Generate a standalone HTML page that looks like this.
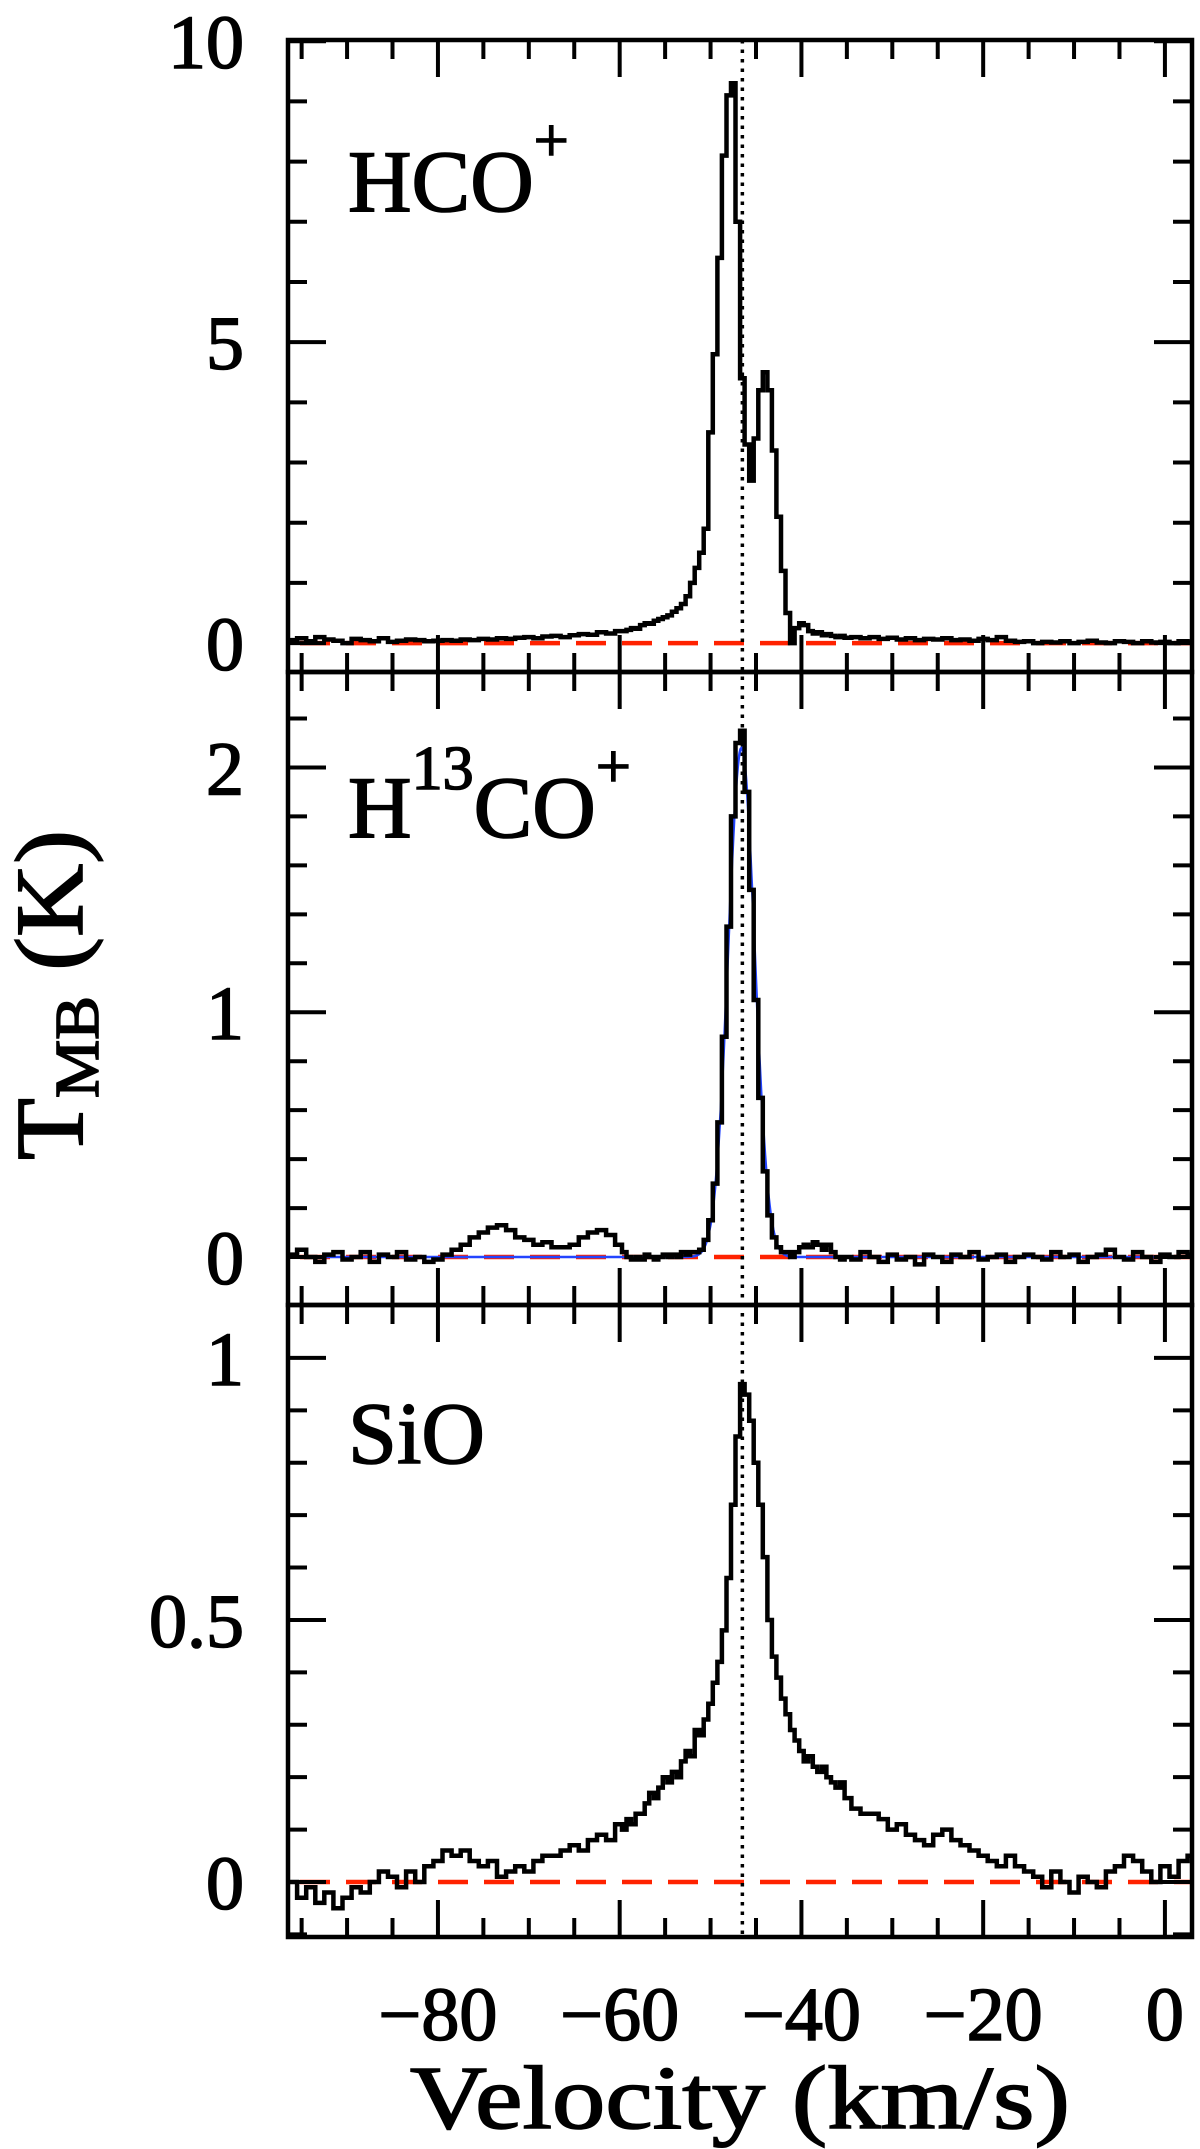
<!DOCTYPE html>
<html><head><meta charset="utf-8"><style>
html,body{margin:0;padding:0;background:#fff;}
svg{display:block;}
text{font-family:"Liberation Serif",serif;fill:#000;stroke:#000;stroke-width:1.6px;}
</style></head><body>
<svg id="chart" width="1200" height="2149" viewBox="0 0 1200 2149" xmlns="http://www.w3.org/2000/svg">
<g id="g-panels"></g>
<text x="740" y="2128" font-size="90" text-anchor="middle" textLength="660" lengthAdjust="spacingAndGlyphs">Velocity (km/s)</text>
<text transform="translate(82,995) rotate(-90)" font-size="96" text-anchor="middle" textLength="330" lengthAdjust="spacingAndGlyphs">T<tspan font-size="62" dy="16">MB</tspan><tspan dy="-16">  (K)</tspan></text>
</svg>
<script>
const velocities=[-96,-95,-94,-93,-92,-91,-90,-89,-88,-87,-86,-85,-84,-83,-82,-81,-80,-79,-78,-77,-76,-75,-74,-73,-72,-71,-70,-69,-68,-67,-66,-65,-64,-63,-62,-61,-60,
-59.5,-59,-58.5,-58,-57.5,-57,-56.5,-56,-55.5,-55,-54.5,-54,-53.5,-53,-52.5,-52,-51.5,-51,-50.5,-50,-49.5,-49,-48.5,-48,-47.5,-47,-46.5,-46,-45.5,-45,-44.5,-44,-43.5,-43,-42.5,-42,-41.5,-41,-40.5,-40,-39.5,-39,-38.5,-38,-37.5,-37,-36.5,-36,-35.5,-35,
-34,-33,-32,-31,-30,-29,-28,-27,-26,-25,-24,-23,-22,-21,-20,-19,-18,-17,-16,-15,-14,-13,-12,-11,-10,-9,-8,-7,-6,-5,-4,-3,-2,-1,0,1,2,3];
const hcoT=[0.05,0.08,0.03,0.1,0.06,0.04,0.0,0.07,0.05,0.03,0.08,0.02,0.04,0.06,0.05,0.03,0.04,0.05,0.04,0.06,0.05,0.07,0.06,0.08,0.07,0.09,0.1,0.08,0.11,0.12,0.1,0.13,0.15,0.14,0.18,0.16,0.2,
0.2,0.22,0.25,0.24,0.3,0.33,0.32,0.37,0.4,0.43,0.46,0.52,0.58,0.65,0.78,1.0,1.25,1.5,1.9,3.5,4.8,6.4,8.1,9.1,9.3,7.0,4.4,3.3,2.7,3.4,4.2,4.5,4.2,3.2,2.1,1.2,0.5,0.0,0.25,0.33,0.3,0.2,0.16,0.18,0.13,0.15,0.12,0.1,0.12,0.09,
0.1,0.08,0.1,0.07,0.09,0.06,0.08,0.05,0.07,0.06,0.08,0.05,0.06,0.04,0.07,0.05,0.1,0.04,0.02,0.03,0.0,0.02,0.01,0.03,0.0,0.02,0.04,0.01,0.0,0.03,0.02,0.0,0.03,0.01,0.02,0.0,0.03,0.01];
const h13coT=[0.01,0.03,0.0,-0.02,0.01,0.02,-0.01,0.0,0.02,-0.02,0.01,0.0,0.02,-0.01,0.0,-0.02,-0.01,0.01,0.03,0.05,0.08,0.1,0.12,0.13,0.11,0.08,0.07,0.05,0.06,0.04,0.04,0.05,0.08,0.1,0.11,0.09,0.05,
0.02,0.0,-0.01,0.0,-0.01,0.01,0.0,-0.01,0.0,0.01,0.0,0.01,0.0,0.02,0.01,0.02,0.02,0.03,0.07,0.15,0.3,0.55,0.9,1.35,1.8,2.1,2.15,1.9,1.5,1.05,0.65,0.35,0.17,0.08,0.04,0.02,0.02,0.0,0.02,0.04,0.05,0.04,0.06,0.05,0.03,0.05,0.02,0.0,-0.01,0.0,
-0.01,0.02,0.0,-0.02,0.01,-0.01,0.0,-0.03,0.01,0.0,-0.02,0.01,0.0,0.02,-0.01,0.0,0.01,-0.02,0.0,0.01,0.0,-0.01,0.02,0.0,0.01,-0.02,0.0,0.01,0.03,0.0,-0.01,0.02,0.0,-0.02,0.01,0.0,0.02,0.01];
const sioT=[0.0,-0.03,-0.01,-0.04,-0.02,-0.05,-0.03,-0.01,-0.02,0.0,0.02,0.01,-0.01,0.02,0.0,0.03,0.04,0.06,0.05,0.06,0.04,0.03,0.04,0.01,0.02,0.03,0.02,0.04,0.05,0.05,0.06,0.07,0.06,0.08,0.09,0.08,0.11,
0.1,0.12,0.11,0.13,0.13,0.15,0.17,0.16,0.18,0.2,0.19,0.21,0.2,0.23,0.25,0.24,0.29,0.28,0.31,0.34,0.38,0.42,0.48,0.58,0.72,0.85,0.95,0.93,0.88,0.8,0.72,0.62,0.5,0.43,0.39,0.35,0.32,0.29,0.27,0.25,0.23,0.24,0.22,0.21,0.22,0.2,0.19,0.18,0.19,0.16,
0.14,0.13,0.13,0.12,0.1,0.11,0.09,0.08,0.07,0.09,0.1,0.08,0.07,0.06,0.05,0.04,0.03,0.05,0.03,0.02,0.01,-0.01,0.02,0.0,-0.02,0.01,0.0,-0.01,0.02,0.03,0.05,0.04,0.02,0.0,0.03,0.01,0.04,0.05];
const yTickLabels1=["0","5","10"], yTickValues1=[0,5,10];
const yTickLabels2=["0","1","2"], yTickValues2=[0,1,2];
const yTickLabels3=["0","0.5","1"], yTickValues3=[0,0.5,1];
const xTickLabels=["−80","−60","−40","−20","0"], xTickValues=[-80,-60,-40,-20,0];
const gaussFit=[2.08,-46.6,1.45]; // amplitude, center, sigma
const vRef=-46.5;

const NS="http://www.w3.org/2000/svg";
const XL=288,XR=1192,VMIN=-96.5,VMAX=2.98;
const xs=v=>XL+(v-VMIN)/(VMAX-VMIN)*(XR-XL);
const panels=[
 {top:40,bot:672,ymin:-0.48,ymax:10.02,data:hcoT,minor:1,major:5,tv:yTickValues1,tl:yTickLabels1,name:"hco-plus"},
 {top:672,bot:1305,ymin:-0.196,ymax:2.39,data:h13coT,minor:0.2,major:1,tv:yTickValues2,tl:yTickLabels2,name:"h13co-plus"},
 {top:1305,bot:1937,ymin:-0.105,ymax:1.101,data:sioT,minor:0.1,major:0.5,tv:yTickValues3,tl:yTickLabels3,name:"sio"}];
const root=document.getElementById('g-panels');
function mk(tag,attrs,parent){const e=document.createElementNS(NS,tag);for(const k in attrs)e.setAttribute(k,attrs[k]);(parent||root).appendChild(e);return e;}

panels.forEach((p,pi)=>{
 const ys=t=>p.bot-(t-p.ymin)/(p.ymax-p.ymin)*(p.bot-p.top);
 const g=mk('g',{});
 
 
 const z=mk('line',{x1:300,x2:XR,y1:ys(0),y2:ys(0),stroke:'#ff2200','stroke-width':4.5,'stroke-dasharray':'30 16'},g);
 
 
 if(pi===1){
  let d='';
  for(let v=VMIN;v<=VMAX;v+=0.1){const t=gaussFit[0]*Math.exp(-0.5*Math.pow((v-gaussFit[1])/gaussFit[2],2));d+=(d?'L':'M')+xs(v).toFixed(1)+' '+ys(t).toFixed(1);}
  const f=mk('path',{d:d,fill:'none',stroke:'#2244ff','stroke-width':2.5},g);
  
  
 }
 let d='';
 const n=velocities.length;
 for(let i=0;i<n;i++){
  const lo=i===0?velocities[0]-0.5:(velocities[i-1]+velocities[i])/2;
  const hi=i===n-1?Math.min(velocities[n-1]+0.5,VMAX):(velocities[i]+velocities[i+1])/2;
  const y=ys(p.data[i]).toFixed(1);
  d+=(i===0?'M':'L')+Math.max(xs(lo),XL).toFixed(1)+' '+y+'L'+xs(hi).toFixed(1)+' '+y;
 }
 const s=mk('path',{d:d,fill:'none',stroke:'#000','stroke-width':4.5,'stroke-linejoin':'miter'},g);
 
 
 const fr=mk('rect',{x:XL,y:p.top,width:XR-XL,height:p.bot-p.top,fill:'none',stroke:'#000','stroke-width':4.5},g);
 
 
 for(let v=-95;v<=0;v+=5){
  const L=(v%20===0)?37:19,x=xs(v);
  mk('line',{x1:x,x2:x,y1:p.top,y2:p.top+L,stroke:'#000','stroke-width':4},g);
  mk('line',{x1:x,x2:x,y1:p.bot,y2:p.bot-L,stroke:'#000','stroke-width':4},g);
 }
 const nT=Math.round((p.ymax)/p.minor);
 for(let k=Math.ceil(p.ymin/p.minor);k<=nT;k++){
  const t=k*p.minor;const y=ys(t);if(y<p.top+1||y>p.bot-1)continue;
  const maj=Math.abs(t/p.major-Math.round(t/p.major))<1e-6;const L=maj?38:19;
  mk('line',{x1:XL,x2:XL+L,y1:y,y2:y,stroke:'#000','stroke-width':4},g);
  mk('line',{x1:XR,x2:XR-L,y1:y,y2:y,stroke:'#000','stroke-width':4},g);
 }
 p.tv.forEach((t,j)=>{
  const tl=mk('text',{x:244,y:ys(t)+27,'font-size':76,'text-anchor':'end'},g);
  tl.textContent=p.tl[j];
  
  
 });
});
let lb=mk('text',{x:348,y:211,'font-size':88});
lb.innerHTML='HCO<tspan font-size="62" dy="-50">+</tspan>';


lb=mk('text',{x:348,y:837,'font-size':88});
lb.innerHTML='H<tspan font-size="62" dy="-48">13</tspan><tspan dy="48">CO</tspan><tspan font-size="62" dy="-50">+</tspan>';


lb=mk('text',{x:348,y:1463,'font-size':88});
lb.textContent='SiO';


const vl=mk('line',{x1:xs(vRef),x2:xs(vRef),y1:40,y2:1937,stroke:'#000','stroke-width':3.5,'stroke-dasharray':'3.5 6'});


xTickValues.forEach((v,j)=>{
 const t=mk('text',{x:xs(v),y:2040,'font-size':76,'text-anchor':'middle'});
 t.textContent=xTickLabels[j];
 
 
});
</script>
</body></html>
